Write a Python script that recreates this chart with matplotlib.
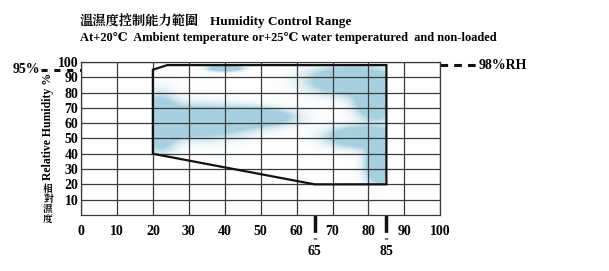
import matplotlib
matplotlib.use("Agg")
import numpy as np
from matplotlib import pyplot as plt
from matplotlib.patches import Polygon

# chart data
x_ticks = [0, 10, 20, 30, 40, 50, 60, 70, 80, 90, 100]
y_ticks = [10, 20, 30, 40, 50, 60, 70, 80, 90, 100]
range_temp = [20, 24, 85, 85, 65, 20]
range_rh = [95, 98, 98, 20, 20, 40]
extra_x_marks = [65, 85]
left_rh_mark = 95
right_rh_mark = 98

# light-blue watercolour shading inside the range: (x, y, sx, sy)
blobs = [
    (31, 61, 14, 9),
    (48, 64, 9, 5),
    (22, 60, 4, 15),
    (75, 88, 10, 8),
    (82, 74, 5, 10),
    (78, 51, 8, 6),
    (83, 34, 3.5, 12),
    (40, 96, 4, 1.8),
]

serif = ["Liberation Serif", "DejaVu Serif"]
cjk = ["Noto Serif CJK TC", "Noto Sans CJK TC", "DejaVu Sans"]

fig = plt.figure(figsize=(6.09, 2.71), dpi=100)
ax = fig.add_axes([0.133, 0.207, 0.590, 0.564])
ax.set_xlim(0, 100)
ax.set_ylim(0, 100)

ax.set_xticks(x_ticks)
ax.set_yticks(y_ticks)
ax.set_xticklabels([str(v) for v in x_ticks], fontfamily=serif,
                   fontweight="bold", fontsize=10)
ax.set_yticklabels([str(v) for v in y_ticks], fontfamily=serif,
                   fontweight="bold", fontsize=10)
ax.tick_params(length=0, pad=7)
ax.tick_params(axis="y", pad=2)
ax.grid(True, color="#3a3a3a", linewidth=0.9)
ax.set_axisbelow(False)
for s in ax.spines.values():
    s.set_color("#3a3a3a")
    s.set_linewidth(0.9)

poly = Polygon(list(zip(range_temp, range_rh)), closed=True, fill=False,
               edgecolor="#111111", linewidth=1.6, zorder=4)
ax.add_patch(poly)

# soft shading field, clipped to the range polygon
gx, gy = np.meshgrid(np.linspace(0, 100, 400), np.linspace(0, 100, 400))
field = np.zeros_like(gx)
for bx, by, sx, sy in blobs:
    field += np.exp(-((gx - bx) / sx) ** 2 - ((gy - by) / sy) ** 2)
rgba = np.zeros(gx.shape + (4,))
rgba[..., 0] = 0x9c / 255
rgba[..., 1] = 0xcb / 255
rgba[..., 2] = 0xdc / 255
rgba[..., 3] = np.clip(2.6 * field, 0, 0.9)
im = ax.imshow(rgba, extent=(0, 100, 0, 100), origin="lower",
               aspect="auto", zorder=0.5, interpolation="bilinear")
im.set_clip_path(poly)

# dashed marks outside the grid
ax.plot([-11, 0], [left_rh_mark] * 2, color="#111111", linewidth=2.2,
        dashes=(2, 2.2), clip_on=False)
ax.text(-11.5, left_rh_mark, "95%", ha="right", va="center",
        fontfamily=serif, fontweight="bold", fontsize=10)
ax.plot([100, 110.5], [right_rh_mark] * 2, color="#111111", linewidth=2.2,
        dashes=(2.5, 2), clip_on=False)
ax.text(110.7, right_rh_mark, "98%RH", ha="left", va="center",
        fontfamily=serif, fontweight="bold", fontsize=10)
for xm in extra_x_marks:
    ax.plot([xm, xm], [0, -15.5], color="#111111", linewidth=2.5,
            dashes=(5, 1.6), clip_on=False)
    ax.text(xm, -20, str(xm), ha="center", va="top",
            fontfamily=serif, fontweight="bold", fontsize=10)

# y label: english rotated, chinese stacked
fig.text(0.079, 0.535, "Relative Humidity %", rotation=90, ha="center",
         va="center", fontfamily=serif, fontweight="bold", fontsize=8.5)
fig.text(0.079, 0.247, "相\n對\n濕\n度", ha="center", va="center",
         fontfamily=cjk, fontweight="bold", fontsize=7, linespacing=1.05)

fig.text(0.131, 0.92, "溫濕度控制能力範圍", ha="left", va="center",
         fontfamily=cjk, fontweight="bold", fontsize=9.5)
fig.text(0.345, 0.92, "Humidity Control Range", ha="left", va="center",
         fontfamily=serif, fontweight="bold", fontsize=9.5)
fig.text(0.131, 0.86,
         "At+20℃  Ambient temperature or+25℃ water temperatured  and non-loaded",
         ha="left", va="center", fontfamily=serif, fontweight="bold",
         fontsize=8.9)

fig.savefig("out.png", dpi=100)
